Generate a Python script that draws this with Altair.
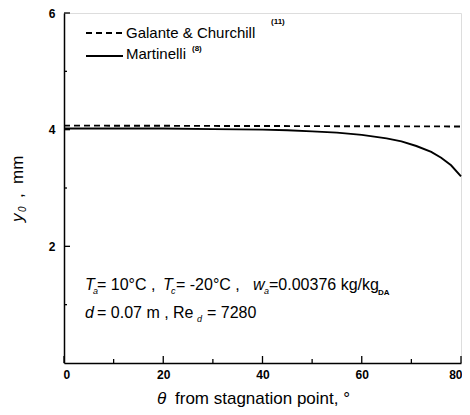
import altair as alt
import pandas as pd

# ---- data ----
theta_martinelli = [0, 10, 20, 30, 40, 45, 50, 55, 60, 65, 68, 71, 74, 76, 78, 80]
y_martinelli = [4.02, 4.02, 4.02, 4.01, 4.00, 3.99, 3.97, 3.95, 3.91, 3.85, 3.80, 3.72, 3.62, 3.52, 3.39, 3.20]
theta_galante = [0, 80]
y_galante = [4.07, 4.055]

x_major_ticks = [0, 20, 40, 60, 80]
x_minor_ticks = [10, 30, 50, 70]
y_major_ticks = [2, 4, 6]
y_minor_ticks = [1, 3, 5]

W, H = 397, 350
FONT = "Liberation Sans"

df_m = pd.DataFrame({"theta": theta_martinelli, "y": y_martinelli})
df_g = pd.DataFrame({"theta": theta_galante, "y": y_galante})
one = pd.DataFrame({"a": [0]})

xs = alt.Scale(domain=[0, 80], nice=False, zero=False)
ys = alt.Scale(domain=[0, 6], nice=False, zero=False)
xaxis = alt.Axis(title=None, values=x_major_ticks, ticks=False, grid=False,
                 labelFontWeight="bold", labelFontSize=12, labelFont=FONT,
                 labelColor="black", labelPadding=6, labelFlush=True, labelFlushOffset=1,
                 domainColor="black", domainWidth=1.5)
yaxis = alt.Axis(title=None, values=y_major_ticks, ticks=False, grid=False,
                 labelFontWeight="bold", labelFontSize=12, labelFont=FONT,
                 labelColor="black", labelPadding=9,
                 domainColor="black", domainWidth=1.5)

X = lambda f: alt.X(f, type="quantitative", scale=xs, axis=xaxis)
Y = lambda f: alt.Y(f, type="quantitative", scale=ys, axis=yaxis)

martinelli = alt.Chart(df_m).mark_line(color="black", strokeWidth=1.9).encode(
    x=X("theta"), y=Y("y"))
galante = alt.Chart(df_g).mark_line(color="black", strokeWidth=1.9, strokeDash=[6, 4]).encode(
    x=X("theta"), y=Y("y"))

# inward ticks
def xticks(vals, length):
    return alt.Chart(pd.DataFrame({"theta": vals})).mark_rule(color="black", strokeWidth=1.3).encode(
        x=X("theta"), y=alt.value(H), y2=alt.value(H - length))

def yticks(vals, length):
    return alt.Chart(pd.DataFrame({"y": vals})).mark_rule(color="black", strokeWidth=1.3).encode(
        y=Y("y"), x=alt.value(0), x2=alt.value(length))

def txt(text, x, y, size=16, style="normal", weight="normal", align="left", angle=0, baseline="alphabetic"):
    return alt.Chart(one).mark_text(text=text, font=FONT, fontSize=size, fontStyle=style,
                                    fontWeight=weight, align=align, baseline=baseline,
                                    angle=angle, color="black").encode(
        x=alt.value(x), y=alt.value(y))

def leg_rule(x1, x2, y, dash=None):
    kw = dict(color="black", strokeWidth=1.8)
    if dash:
        kw["strokeDash"] = dash
    return alt.Chart(one).mark_rule(**kw).encode(x=alt.value(x1), x2=alt.value(x2), y=alt.value(y))

layers = [
    galante, martinelli,
    xticks(x_major_ticks, 7), xticks(x_minor_ticks, 4),
    yticks(y_major_ticks, 6), yticks(y_minor_ticks, 3),
    # legend
    leg_rule(22, 59, 20, [6, 4]),
    txt("Galante & Churchill", 62, 20, size=15, baseline="middle"),
    txt("(11)", 207, 9, size=8, weight="bold", baseline="middle"),
    leg_rule(22, 59, 43),
    txt("Martinelli", 62, 41, size=15, baseline="middle"),
    txt("(8)", 128, 36, size=8, weight="bold", baseline="middle"),
    # annotation line 1
    txt("T", 21, 277, style="italic"),
    txt("a", 29, 281, size=9, style="italic"),
    txt("= 10°C ,", 33, 277),
    txt("T", 99, 277, style="italic"),
    txt("c", 107, 281, size=9, style="italic"),
    txt("= -20°C ,", 112, 277),
    txt("w", 189, 277, style="italic"),
    txt("a", 200, 281, size=9, style="italic"),
    txt("=0.00376 kg/kg", 205, 277),
    txt("DA", 314, 282, size=8, weight="bold"),
    # annotation line 2
    txt("d", 21, 305, style="italic"),
    txt("= 0.07 m , Re", 33, 305),
    txt("d", 133, 309, size=9, style="italic"),
    txt("= 7280", 143, 305),
    # x title
    txt("θ", 93, 386, size=17, style="italic", baseline="middle"),
    txt("from stagnation point, °", 111, 386, size=17, baseline="middle"),
    # y title (rotated)
    txt("y", -41, 209, size=17, style="italic", angle=270),
    txt("0", -38, 199, size=10, style="italic", angle=270),
    txt(",", -41, 185, size=17, angle=270),
    txt("mm", -41, 171, size=17, angle=270),
]

chart = alt.layer(*layers).properties(
    width=W, height=H,
    autosize=alt.AutoSizeParams(type="none"),
    padding={"left": 56, "top": 5, "right": 1, "bottom": 44},
).configure_view(stroke="black", strokeWidth=1.5).configure(background="white")

chart.save("out.html", embed_options={"renderer": "svg", "actions": False})
